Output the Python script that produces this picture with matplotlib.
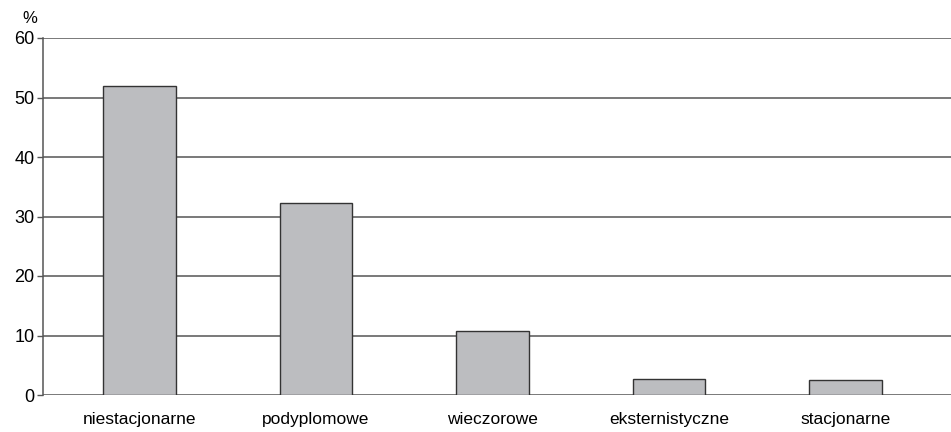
import matplotlib.pyplot as plt

plt.rcParams['font.family'] = ['Liberation Sans', 'DejaVu Sans']

categories = ['niestacjonarne', 'podyplomowe', 'wieczorowe', 'eksternistyczne', 'stacjonarne']
values = [52.0, 32.2, 10.8, 2.65, 2.6]
yticks = [0, 10, 20, 30, 40, 50, 60]

fig = plt.figure(figsize=(9.51, 4.32), dpi=100)
ax = fig.add_axes([43 / 951, 1 - 395 / 432, 908 / 951, (395 - 38) / 432])

grid_color = '#555555'
for t in yticks:
    ax.axhline(t, color=grid_color, lw=1.1, zorder=1)

ax.bar(range(len(categories)), values, width=0.41, color='#bcbdc0',
       edgecolor='#333333', linewidth=1.0, zorder=2)

ax.set_xlim(-0.546, 4.598)
ax.set_ylim(0, 60)
ax.set_yticks(yticks)
ax.set_xticks(range(len(categories)))
ax.set_xticklabels(categories, fontsize=12.5)
ax.tick_params(axis='y', length=4, width=1, color=grid_color, labelsize=13, pad=2)
ax.tick_params(axis='x', length=0, pad=12)

for s in ['top', 'right', 'bottom']:
    ax.spines[s].set_visible(False)
ax.spines['left'].set_color(grid_color)
ax.spines['left'].set_linewidth(1.1)

ax.text(-0.014, 1.035, '%', transform=ax.transAxes, ha='center', va='bottom', fontsize=12)

fig.savefig('out.png', dpi=100)
